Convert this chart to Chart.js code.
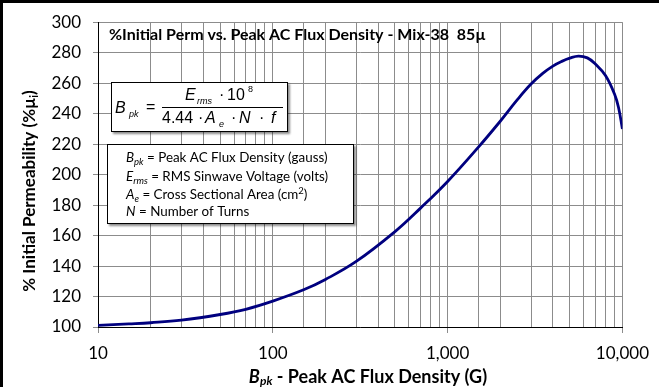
<!DOCTYPE html>
<html><head><meta charset="utf-8">
<script src="https://cdn.jsdelivr.net/npm/chart.js@4/dist/chart.umd.min.js"></script>
<style>html,body{margin:0;padding:0;background:#fff;}canvas{display:block}</style>
</head><body>
<canvas id="c" width="659" height="387"></canvas>
<script>
// Peak AC flux density (gauss)
const fluxDensity = [10, 15, 20, 30, 50, 70, 100, 150, 200, 300, 500, 700, 1000, 1500, 2000, 2500, 3000, 3500, 4000, 4500, 5000, 5600, 6300, 7000, 8000, 9000, 9500, 10000];
// % initial permeability
const initialPerm = [101, 102, 102.8, 104.5, 108.2, 111.6, 117, 124.4, 131.2, 143, 162.6, 178, 195.5, 218, 235, 249, 259.4, 266.4, 271.2, 274.3, 276.4, 277.8, 276.6, 272.6, 265, 253, 244, 230];
const xTickLabels = [10, 100, 1000, 10000];
const yMin = 100, yMax = 300, yStep = 20;

const chartTitle = '%Initial Perm vs. Peak AC Flux Density - Mix-38  85µ';
const F = 'Lato, "Open Sans", sans-serif';
const M = '"Liberation Sans", Arial, sans-serif';

function rich(ctx, x, y, parts, align) {
  let total = 0;
  parts.forEach(p => { ctx.font = p.f; total += ctx.measureText(p.t).width; });
  let cx = align === 'center' ? x - total / 2 : x;
  parts.forEach(p => { ctx.font = p.f; ctx.fillText(p.t, cx, y + (p.dy || 0)); cx += ctx.measureText(p.t).width; });
}

const decor = {
  id: 'decor',
  beforeDraw(chart) {
    const ctx = chart.ctx;
    ctx.save();
    ctx.fillStyle = '#fff';
    ctx.fillRect(0, 0, chart.width, chart.height);
    ctx.restore();
  },
  afterDraw(chart) {
    const ctx = chart.ctx;
    ctx.save();
    ctx.fillStyle = '#000';
    ctx.fillRect(0, 0, 3, chart.height);
    ctx.fillRect(0, 0, chart.width, 3);

    ctx.textBaseline = 'middle';
    ctx.textAlign = 'left';
    ctx.fillStyle = '#000';
    ctx.font = 'bold 16px ' + F;
    ctx.fillText(chartTitle, 109, 35);

    // formula box
    ctx.save();
    ctx.shadowColor = 'rgba(0,0,0,0.45)';
    ctx.shadowOffsetX = 2; ctx.shadowOffsetY = 2; ctx.shadowBlur = 2;
    ctx.fillStyle = '#fff';
    ctx.fillRect(111, 82, 177, 50);
    ctx.restore();
    ctx.strokeStyle = '#000'; ctx.lineWidth = 1;
    ctx.strokeRect(111.5, 82.5, 176, 49);

    const fi = 'italic 16px ' + M, fn = '16px ' + M, fs = 'italic 9px ' + M, fsn = '9px ' + M;
    ctx.fillStyle = '#000';
    ctx.font = fi; ctx.fillText('B', 115, 109);
    ctx.font = fs; ctx.fillText('pk', 129, 114);
    ctx.font = fn; ctx.fillText('=', 146, 108);
    ctx.beginPath(); ctx.moveTo(162, 107.5); ctx.lineTo(283, 107.5); ctx.stroke();
    ctx.font = fi; ctx.fillText('E', 185, 96);
    ctx.font = fs; ctx.fillText('rms', 197, 101);
    ctx.font = fn; ctx.fillText('·', 219, 96);
    ctx.font = fn; ctx.fillText('10', 227, 96);
    ctx.font = fsn; ctx.fillText('8', 248, 90);
    ctx.font = fn; ctx.fillText('4.44', 162, 119);
    ctx.font = fn; ctx.fillText('·', 198, 119);
    ctx.font = fi; ctx.fillText('A', 205, 119);
    ctx.font = fs; ctx.fillText('e', 219, 124);
    ctx.font = fn; ctx.fillText('·', 231, 119);
    ctx.font = fi; ctx.fillText('N', 239, 119);
    ctx.font = fn; ctx.fillText('·', 259, 119);
    ctx.font = fi; ctx.fillText('f', 271, 119);

    // legend box
    ctx.save();
    ctx.shadowColor = 'rgba(0,0,0,0.45)';
    ctx.shadowOffsetX = 2; ctx.shadowOffsetY = 2; ctx.shadowBlur = 2;
    ctx.fillStyle = '#fff';
    ctx.fillRect(107, 144, 247, 80);
    ctx.restore();
    ctx.strokeRect(107.5, 144.5, 246, 79);

    const li = 'italic 13.4px ' + F, ln = '13.4px ' + F, ls = 'italic 9.5px ' + F, lsn = '9.5px ' + F;
    ctx.fillStyle = '#000';
    rich(ctx, 126, 158, [{t: 'B', f: li}, {t: 'pk', f: ls, dy: 4}, {t: ' = Peak AC Flux Density (gauss)', f: ln}]);
    rich(ctx, 126, 176.5, [{t: 'E', f: li}, {t: 'rms', f: ls, dy: 4}, {t: ' = RMS Sinwave Voltage (volts)', f: ln}]);
    rich(ctx, 126, 194.5, [{t: 'A', f: li}, {t: 'e', f: ls, dy: 4}, {t: ' = Cross Sectional Area (cm', f: ln}, {t: '2', f: lsn, dy: -4}, {t: ')', f: ln}]);
    rich(ctx, 126, 212, [{t: 'N', f: li}, {t: ' = Number of Turns', f: ln}]);

    // x axis title
    rich(ctx, 368, 377, [{t: 'B', f: 'italic bold 18px ' + F}, {t: 'pk', f: 'italic bold 12px ' + F, dy: 4}, {t: ' - Peak AC Flux Density (G)', f: 'bold 18px ' + F}], 'center');

    // y axis title
    ctx.save();
    ctx.translate(30, 191);
    ctx.rotate(-Math.PI / 2);
    rich(ctx, 0, 0, [{t: '% Initial Permeability (%µ', f: 'bold 17px ' + F}, {t: 'i', f: 'bold 11px ' + F, dy: 4}, {t: ')', f: 'bold 17px ' + F}], 'center');
    ctx.restore();
    ctx.restore();
  }
};

const gridCol = '#8c8c8c';
new Chart(document.getElementById('c'), {
  type: 'line',
  data: {
    datasets: [{
      data: fluxDensity.map((x, i) => ({x: x, y: initialPerm[i]})),
      borderColor: '#00007f',
      borderWidth: 2.8,
      pointRadius: 0,
      fill: false,
      tension: 0.4
    }]
  },
  options: {
    responsive: false,
    animation: false,
    events: [],
    layout: {padding: {left: 0, top: 17, right: 30, bottom: 0}},
    plugins: {legend: {display: false}, tooltip: {enabled: false}, title: {display: false}},
    scales: {
      x: {
        type: 'logarithmic',
        min: 10, max: 10000,
        afterFit(s) { s.height = 60; },
        ticks: {
          autoSkip: false, maxRotation: 0, minRotation: 0, padding: 10,
          color: '#000', font: {family: F, size: 17},
          callback: v => xTickLabels.includes(v) ? v.toLocaleString('en-US') : ''
        },
        grid: {
          color: gridCol, lineWidth: 1, tickLength: 6,
          tickColor: c => (c.tick && xTickLabels.includes(c.tick.value)) ? gridCol : 'rgba(0,0,0,0)'
        },
        border: {color: '#000', width: 1}
      },
      y: {
        min: yMin, max: yMax,
        afterFit(s) { s.width = 98; },
        ticks: {stepSize: yStep, padding: 12, color: '#000', font: {family: F, size: 17}},
        grid: {color: gridCol, lineWidth: 1, tickLength: 5, tickColor: gridCol},
        border: {color: '#000', width: 1}
      }
    }
  },
  plugins: [decor]
});
</script>
</body></html>
